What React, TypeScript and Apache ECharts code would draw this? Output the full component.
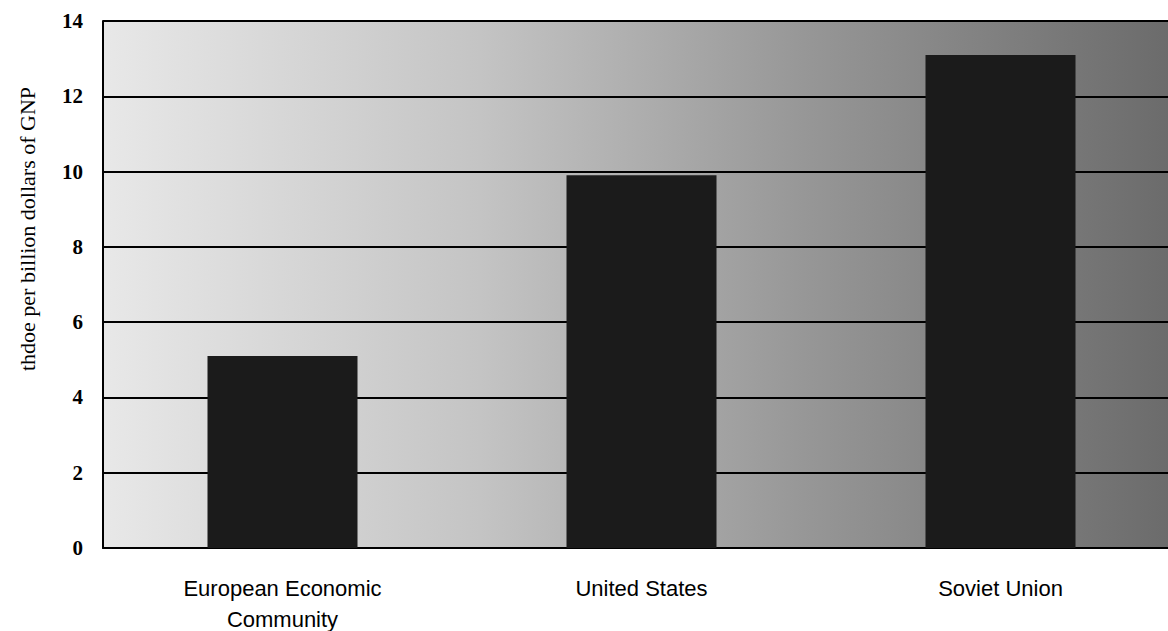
import React, { useEffect, useRef } from "react";
import * as echarts from "echarts";

const categories = ["European Economic\nCommunity", "United States", "Soviet Union"];
const values = [5.1, 9.9, 13.1];
const yTicks = { min: 0, max: 14, interval: 2 };
const yAxisTitle = "thdoe per billion dollars of GNP";

export default function App() {
  const ref = useRef<HTMLDivElement>(null);
  useEffect(() => {
    document.body.style.margin = "0";
    document.body.style.overflow = "hidden";
    const chart = echarts.init(ref.current!, null, { renderer: "svg" });
    chart.setOption({
      animation: false,
      backgroundColor: "#ffffff",
      grid: {
        left: 103,
        right: 0,
        top: 21,
        bottom: 83,
        outerBoundsMode: "none",
        containLabel: false,
        show: true,
        borderWidth: 0,
        backgroundColor: {
          type: "linear",
          x: 0, y: 0, x2: 1, y2: 0,
          colorStops: [
            { offset: 0, color: "#e8e8e8" },
            { offset: 0.35, color: "#c4c4c4" },
            { offset: 0.65, color: "#979797" },
            { offset: 1, color: "#6a6a6a" },
          ],
        },
      },
      graphic: [
        {
          type: "text",
          x: 27,
          y: 229,
          rotation: Math.PI / 2,
          style: {
            text: yAxisTitle,
            font: "22px 'Liberation Serif', serif",
            fill: "#000",
            align: "center",
            verticalAlign: "middle",
          },
        },
      ],
      xAxis: {
        type: "category",
        data: categories,
        axisLine: { show: true, lineStyle: { color: "#000", width: 2 } },
        axisTick: { show: false },
        axisLabel: {
          margin: 25,
          color: "#000",
          fontSize: 22,
          lineHeight: 31,
          fontFamily: "'Liberation Sans', sans-serif",
        },
      },
      yAxis: {
        type: "value",
        min: yTicks.min,
        max: yTicks.max,
        interval: yTicks.interval,
        axisLine: { show: true, lineStyle: { color: "#000", width: 2 } },
        axisTick: { show: false },
        splitLine: { show: true, lineStyle: { color: "#000", width: 2 } },
        axisLabel: {
          margin: 20,
          color: "#000",
          fontSize: 21,
          fontWeight: "bold",
          fontFamily: "'Liberation Serif', serif",
        },
      },
      series: [
        {
          type: "bar",
          data: values,
          barWidth: 150,
          itemStyle: { color: "#1b1b1b" },
        },
      ],
    });
    return () => chart.dispose();
  }, []);
  return (
    <div style={{ position: "fixed", left: 0, top: 0, width: 1168, height: 631, overflow: "hidden" }}>
      <div ref={ref} style={{ width: 1180, height: 631 }} />
    </div>
  );
}
